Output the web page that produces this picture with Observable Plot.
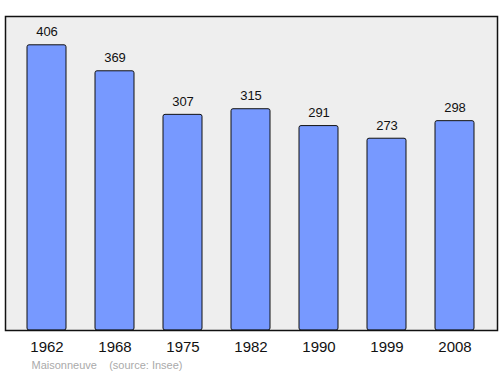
<!DOCTYPE html>
<html><head><meta charset="utf-8">
<script src="https://cdn.jsdelivr.net/npm/d3@7"></script>
<script src="https://cdn.jsdelivr.net/npm/@observablehq/plot@0.6"></script>
<style>body{margin:0;background:#fff;font-family:"Liberation Sans",Arial,sans-serif;}</style>
</head><body><div id="chart"></div>
<script>
const years = ["1962","1968","1975","1982","1990","1999","2008"];
const population = [406,369,307,315,291,273,298];
const caption = "Maisonneuve    (source: Insee)";
const data = years.map((y,i)=>({year:y, pop:population[i]}));
const chart = Plot.plot({
  width: 500, height: 374,
  marginTop: 16, marginBottom: 44, marginLeft: 5, marginRight: 3,
  style: {fontFamily: "Liberation Sans, Arial, sans-serif", background: "#fff"},
  x: {domain: years, paddingInner: 0.42, paddingOuter: 0.21, insetLeft: 5.75, insetRight: 6.75, label: null},
  y: {domain: [0, 447], axis: null},
  marks: [
    Plot.frame({fill: "#eeeeee"}),
    Plot.barY(data, {x: "year", y: "pop", fill: "#7799ff", stroke: "#111", strokeWidth: 1, rx: 2}),
    Plot.text(data, {x: "year", y: "pop", text: d => String(d.pop), dy: -13, fontSize: 13, fill: "#111"}),
    Plot.frame({stroke: "#111", strokeWidth: 1.5}),
    Plot.axisX({tickSize: 0, tickPadding: 11, fontSize: 15, fill: "#111", label: null}),
    Plot.text([caption], {frameAnchor: "bottom-left", dx: 26, dy: 38, text: d => d, fontSize: 11, fill: "#aaa", textAnchor: "start"})
  ]
});
document.getElementById("chart").append(chart);
</script></body></html>
